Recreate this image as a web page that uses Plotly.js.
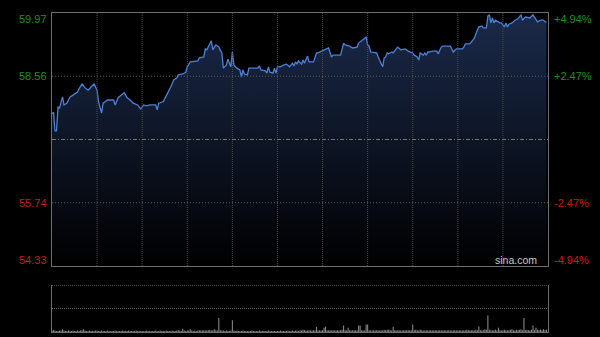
<!DOCTYPE html>
<html>
<head>
<meta charset="utf-8">
<script src="https://cdn.plot.ly/plotly-3.0.1.min.js"></script>
<style>
html,body{margin:0;padding:0;background:#000;}
#chart{width:600px;height:337px;}
</style>
</head>
<body>
<div id="chart"></div>
<script>
// ---- data (HK intraday, minutes from open, 330 trading minutes) ----
const prevClose = 57.15;
const priceLevels = [59.97, 58.56, 55.74, 54.33];
const priceLabels = ['59.97', '58.56', '55.74', '54.33'];
const pctLabels = ['+4.94%', '+2.47%', '-2.47%', '-4.94%'];
const levelColors = ['#16961a', '#16961a', '#cc1a1a', '#cc1a1a'];

const minutes = [0,1,2,3,4,5,7,8,10,12,14,17,18,20,22,24,26,28,30,31,33,34,37,41,42,44,48,50,52,54,57,59,61,63,
65,69,70,71,74,76,77,79,81,83,84,87,89,90,92,97,98,101,102,103,106,107,109,111,113,114,116,117,119,120,121,123,125,126,127,128,130,131,
132,137,138,139,142,143,144,145,147,148,149,150,152,154,156,158,160,161,162,163,164,166,167,168,170,171,174,176,177,180,184,186,187,192,194,195,
198,200,203,204,206,208,209,210,211,212,216,217,219,220,221,222,223,224,226,227,229,230,232,235,237,239,240,241,243,244,245,247,248,249,250,251,253,256,257,259,260,
265,266,267,269,273,274,275,278,280,281,283,284,286,287,289,290,291,292,293,294,295,297,298,299,301,302,303,304,306,308,310,312,313,315,318,320,322,323,325,327,328,329];

const prices = [57.72,57.76,57.34,57.34,57.87,57.85,58.10,57.92,57.96,58.10,58.14,58.21,58.28,58.39,58.30,58.25,58.32,58.39,58.25,57.99,57.74,57.96,58.03,58.03,57.92,58.08,58.19,58.08,58.03,57.96,57.92,57.83,57.92,57.90,
57.92,57.92,57.81,57.96,57.99,58.14,58.19,58.32,58.48,58.52,58.59,58.61,58.65,58.77,58.88,58.90,58.97,58.99,59.17,59.15,59.35,59.15,59.26,59.21,59.08,58.74,58.81,58.94,58.77,59.10,58.81,58.74,58.70,58.54,58.70,58.61,58.59,58.74,
58.74,58.74,58.79,58.70,58.68,58.63,58.77,58.65,58.63,58.74,58.63,58.77,58.77,58.81,58.83,58.77,58.85,58.79,58.88,58.83,58.90,58.83,58.92,58.85,59.01,58.88,58.88,59.08,59.08,59.12,59.19,58.99,59.03,59.03,59.30,59.26,
59.23,59.19,59.21,59.30,59.35,59.41,59.43,59.26,59.23,59.10,59.08,58.99,58.85,58.77,58.97,58.99,59.08,59.06,59.10,59.08,59.17,59.21,59.15,59.17,59.12,59.10,59.08,59.03,58.99,58.92,59.08,59.03,59.08,59.03,59.10,59.10,59.12,59.12,59.06,59.21,59.23,
59.23,59.17,59.10,59.17,59.17,59.21,59.28,59.28,59.37,59.41,59.59,59.66,59.68,59.64,59.64,59.90,59.93,59.75,59.86,59.75,59.81,59.77,59.75,59.75,59.66,59.75,59.66,59.72,59.75,59.81,59.84,59.93,59.81,59.88,59.86,59.93,59.84,59.77,59.81,59.81,59.77,59.77];

// volume per minute (relative units), minute 0..329
const volumes = [
4,4,3,2,2,3,3,6,3,2, 2,3,2,2,3,2,2,3,2,3, 4,6,3,2,2,3,2,2,2,3, 3,2,2,3,2,2,2,3,2,2,
2,2,3,2,2,2,2,3,2,2, 2,3,2,2,2,2,3,2,2,2, 2,2,2,3,2,2,2,2,2,3, 2,2,3,2,2,2,3,2,2,2,
3,2,2,3,4,3,2,7,3,2, 3,3,6,3,2,3,2,3,4,3, 3,4,3,3,4,5,3,4,6,4, 3,30,4,3,3,2,3,2,2,3,
25,3,2,3,2,2,2,3,2,2, 2,2,2,3,2,2,2,2,3,2, 2,2,2,2,3,2,2,2,2,2, 2,2,3,2,2,2,2,3,2,2,
3,2,3,3,2,4,3,5,4,3, 3,4,3,3,4,3,11,3,4,3, 4,9,12,4,3,4,3,4,3,3, 4,3,4,5,14,4,3,9,4,3,
4,3,4,3,14,14,4,3,3,16, 16,4,3,3,4,3,4,3,3,4, 3,5,4,5,5,4,3,11,4,3, 3,4,3,3,4,3,4,4,3,4,
16,4,5,4,3,5,4,3,3,4, 3,3,4,3,3,4,3,3,4,3, 3,4,3,3,4,3,3,3,4,3, 3,4,3,3,4,3,5,4,3,4,
4,3,5,4,12,4,3,4,6,5, 35,5,4,3,4,5,3,9,4,3, 4,5,4,3,4,5,6,4,3,5, 4,5,6,4,30,4,5,4,3,5,
14,4,9,5,4,5,4,6,4,5];
const volMinutes = volumes.map((v, i) => i);

const totalMinutes = 330;
const gridStep = 30;
const yMax = priceLevels[0], yMin = priceLevels[priceLevels.length - 1];

const priceTrace = {
  x: minutes, y: prices, type: 'scatter', mode: 'lines',
  line: {color: '#4d80d8', width: 1.3},
  fill: 'tozeroy',
  fillgradient: {type: 'vertical', start: yMin, stop: yMax,
    colorscale: [[0, 'rgb(0,0,0)'], [1, 'rgb(27,42,74)']]},
  xaxis: 'x', yaxis: 'y', hoverinfo: 'skip'
};
const volTrace = {
  x: volMinutes, y: volumes, type: 'bar', width: 0.7,
  marker: {color: '#8a8a8a', line: {width: 0}},
  xaxis: 'x2', yaxis: 'y2', hoverinfo: 'skip'
};

const font = 'Liberation Sans, Arial, sans-serif';
const annotations = [];
priceLevels.forEach((lv, i) => {
  const shift = i === 0 ? -6 : (i === priceLevels.length - 1 ? 6 : 0);
  annotations.push({xref: 'paper', yref: 'y', x: 0, y: lv, xanchor: 'right', yanchor: 'middle',
    xshift: -3, yshift: shift, text: priceLabels[i], showarrow: false,
    font: {family: font, size: 11, color: levelColors[i]}});
  annotations.push({xref: 'paper', yref: 'y', x: 1, y: lv, xanchor: 'left', yanchor: 'middle',
    xshift: 4, yshift: shift, text: pctLabels[i], showarrow: false,
    font: {family: font, size: 11, color: levelColors[i]}});
});
annotations.push({xref: 'paper', yref: 'y', x: 0.982, y: yMin, xanchor: 'right', yanchor: 'bottom',
  yshift: -2, text: 'sina.com', showarrow: false,
  font: {family: font, size: 10.5, color: '#c8c8c8'}});

// grid lines drawn above the area fill, as in the reference
const shapes = [];
for (let m = gridStep; m < totalMinutes; m += gridStep) {
  shapes.push({type: 'line', xref: 'x', yref: 'y', x0: m, x1: m, y0: yMin, y1: yMax, layer: 'above',
    line: {color: '#4e4e4e', width: 1, dash: '1px,1px'}});
}
[priceLevels[1], priceLevels[2]].forEach(lv => {
  shapes.push({type: 'line', xref: 'paper', yref: 'y', x0: 0, x1: 1, y0: lv, y1: lv, layer: 'above',
    line: {color: '#5a5a5a', width: 1, dash: '1px,2px'}});
});
shapes.push({type: 'line', xref: 'paper', yref: 'y', x0: 0, x1: 1, y0: prevClose, y1: prevClose, layer: 'above',
  line: {color: '#7a7a7a', width: 1, dash: '4px,2px,1px,2px'}});
shapes.push({type: 'line', xref: 'paper', yref: 'y2', x0: 0, x1: 1, y0: 100, y1: 100,
  line: {color: '#808080', width: 1, dash: '1px,1px'}});
shapes.push({type: 'line', xref: 'paper', yref: 'y2', x0: 0, x1: 1, y0: 50, y1: 50,
  line: {color: '#707070', width: 1, dash: '1px,1px'}});

const layout = {
  width: 600, height: 337,
  margin: {l: 52, r: 52, t: 13, b: 5},
  paper_bgcolor: '#000', plot_bgcolor: '#000',
  showlegend: false,
  xaxis: {domain: [0, 1], range: [0, totalMinutes], showticklabels: false, ticks: '', showgrid: false,
    zeroline: false, showline: true, linecolor: '#6e6e6e', linewidth: 1, mirror: true, fixedrange: true},
  yaxis: {domain: [0.207, 1], range: [yMin, yMax], showticklabels: false, ticks: '', showgrid: false,
    zeroline: false, showline: true, linecolor: '#6e6e6e', linewidth: 1, mirror: true, fixedrange: true},
  xaxis2: {domain: [0, 1], range: [0, totalMinutes], anchor: 'y2', showticklabels: false, ticks: '',
    showgrid: false, zeroline: false, showline: true, linecolor: '#6e6e6e', fixedrange: true},
  yaxis2: {domain: [0, 0.147], range: [0, 100], anchor: 'x2', showticklabels: false, ticks: '',
    showgrid: false, zeroline: false, showline: true, linecolor: '#6e6e6e', mirror: true, fixedrange: true},
  shapes: shapes,
  annotations: annotations
};

Plotly.newPlot('chart', [priceTrace, volTrace], layout, {staticPlot: true, displayModeBar: false});
</script>
</body>
</html>
